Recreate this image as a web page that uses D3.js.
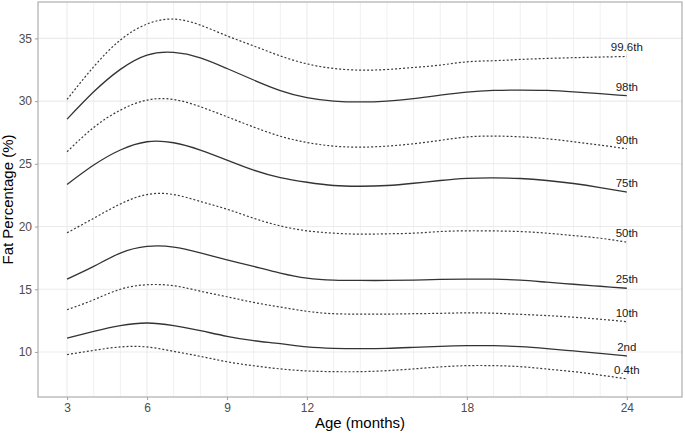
<!DOCTYPE html>
<html>
<head>
<meta charset="utf-8">
<script src="https://cdn.jsdelivr.net/npm/d3@7"></script>
<style>
  body { margin: 0; background: #fff; }
  svg { display: block; font-family: "Liberation Sans", Arial, sans-serif; }
</style>
</head>
<body>
<svg id="chart" width="685" height="434"></svg>
<script>
const months = [3,4,5,6,7,8,9,10,11,12,13,14,15,16,17,18,19,20,21,22,23,24];
const xTicks = [3,6,9,12,18,24];
const yTicks = [10,15,20,25,30,35];
const labels = ["99.6th","98th","90th","75th","50th","25th","10th","2nd","0.4th"];
const lineTypes = ["dotted","solid","dotted","solid","dotted","solid","dotted","solid","dotted"];

const p996 = [30.13,32.74,34.87,36.14,36.54,36.06,35.2,34.4,33.6,32.97,32.6,32.47,32.52,32.68,32.87,33.13,33.22,33.32,33.4,33.46,33.51,33.56];
const p98  = [28.56,30.74,32.53,33.67,33.88,33.45,32.6,31.68,30.84,30.27,30.0,29.93,30.0,30.2,30.47,30.72,30.85,30.88,30.85,30.74,30.59,30.43];
const p90  = [25.96,27.9,29.28,30.08,30.13,29.55,28.75,27.93,27.2,26.7,26.41,26.33,26.41,26.6,26.87,27.14,27.21,27.15,27.0,26.76,26.49,26.2];
const p75  = [23.35,24.9,26.1,26.76,26.68,26.1,25.3,24.5,23.9,23.53,23.27,23.21,23.27,23.45,23.67,23.84,23.88,23.83,23.67,23.43,23.11,22.74];
const p50  = [19.5,20.66,21.8,22.55,22.55,22.0,21.38,20.66,20.05,19.66,19.47,19.39,19.42,19.47,19.6,19.66,19.65,19.6,19.47,19.28,19.07,18.75];
const p25  = [15.81,16.82,17.88,18.41,18.36,17.9,17.35,16.82,16.29,15.89,15.73,15.7,15.7,15.73,15.78,15.8,15.8,15.72,15.56,15.4,15.24,15.08];
const p10  = [13.37,14.16,15.0,15.36,15.28,14.85,14.4,13.95,13.58,13.24,13.05,13.02,13.02,13.05,13.08,13.12,13.09,13.0,12.9,12.77,12.61,12.42];
const p2   = [11.11,11.64,12.1,12.31,12.1,11.7,11.25,10.9,10.66,10.4,10.29,10.27,10.29,10.37,10.45,10.5,10.5,10.43,10.27,10.08,9.89,9.68];
const p04  = [9.79,10.13,10.4,10.4,10.05,9.65,9.22,8.9,8.65,8.49,8.43,8.43,8.51,8.65,8.81,8.91,8.91,8.83,8.64,8.43,8.16,7.85];

const series = [p996,p98,p90,p75,p50,p25,p10,p2,p04];

const svg = d3.select("#chart");
const pL = 38, pR = 682, pT = 2, pB = 397;

const x = d3.scaleLinear().domain([1.91, 26.07]).range([pL, pR]);
const y = d3.scaleLinear().domain([6.41, 37.9]).range([pB, pT]);

svg.append("rect").attr("x", pL).attr("y", pT).attr("width", pR-pL).attr("height", pB-pT).attr("fill", "#fff");

// minor vertical grid (every month)
svg.append("g").selectAll("line").data(months.filter(m => !xTicks.includes(m))).join("line")
  .attr("x1", d => x(d)).attr("x2", d => x(d)).attr("y1", pT).attr("y2", pB)
  .attr("stroke", "#f0f0f0").attr("stroke-width", 1);
// major grid
svg.append("g").selectAll("line").data(xTicks).join("line")
  .attr("x1", d => x(d)).attr("x2", d => x(d)).attr("y1", pT).attr("y2", pB)
  .attr("stroke", "#ebebeb").attr("stroke-width", 1.1);
svg.append("g").selectAll("line").data(yTicks).join("line")
  .attr("y1", d => y(d)).attr("y2", d => y(d)).attr("x1", pL).attr("x2", pR)
  .attr("stroke", "#ebebeb").attr("stroke-width", 1.1);

// lines
const line = d3.line().x((d,i) => x(months[i])).y(d => y(d)).curve(d3.curveNatural);
series.forEach((s, k) => {
  const solid = lineTypes[k] === "solid";
  svg.append("path").datum(s)
    .attr("d", line)
    .attr("fill", "none")
    .attr("stroke", solid ? "#333333" : "#3a3a3a")
    .attr("stroke-width", solid ? 1.3 : 1.2)
    .attr("stroke-dasharray", solid ? null : "2,2");
});

// percentile labels
svg.append("g").selectAll("text").data(series).join("text")
  .attr("x", x(24))
  .attr("y", d => y(d[d.length-1] + 0.72))
  .attr("text-anchor", "middle")
  .attr("dominant-baseline", "central")
  .attr("font-size", 11.5)
  .attr("fill", "#1a1a1a")
  .text((d,i) => labels[i]);

// panel border
svg.append("rect").attr("x", pL).attr("y", pT).attr("width", pR-pL).attr("height", pB-pT)
  .attr("fill", "none").attr("stroke", "#a6a6a6").attr("stroke-width", 1.1);

// axes
const xAxis = d3.axisBottom(x).tickValues(xTicks).tickSize(3).tickPadding(3);
const gx = svg.append("g").attr("transform", `translate(0,${pB})`).call(xAxis);
gx.select(".domain").remove();
gx.selectAll(".tick line").attr("stroke", "#a6a6a6").attr("stroke-width", 1.1);
gx.selectAll(".tick text").attr("fill", "#4d4d4d").attr("font-size", 12).attr("font-family", "Liberation Sans, Arial, sans-serif");

const yAxis = d3.axisLeft(y).tickValues(yTicks).tickSize(3).tickPadding(3);
const gy = svg.append("g").attr("transform", `translate(${pL},0)`).call(yAxis);
gy.select(".domain").remove();
gy.selectAll(".tick line").attr("stroke", "#a6a6a6").attr("stroke-width", 1.1);
gy.selectAll(".tick text").attr("fill", "#4d4d4d").attr("font-size", 12).attr("font-family", "Liberation Sans, Arial, sans-serif");

// axis titles
svg.append("text").attr("x", (pL+pR)/2).attr("y", 428)
  .attr("text-anchor", "middle").attr("font-size", 15).attr("fill", "#000")
  .text("Age (months)");
svg.append("text").attr("transform", `translate(13,${(pT+pB)/2}) rotate(-90)`)
  .attr("text-anchor", "middle").attr("font-size", 15).attr("fill", "#000")
  .text("Fat Percentage (%)");
</script>
</body>
</html>
